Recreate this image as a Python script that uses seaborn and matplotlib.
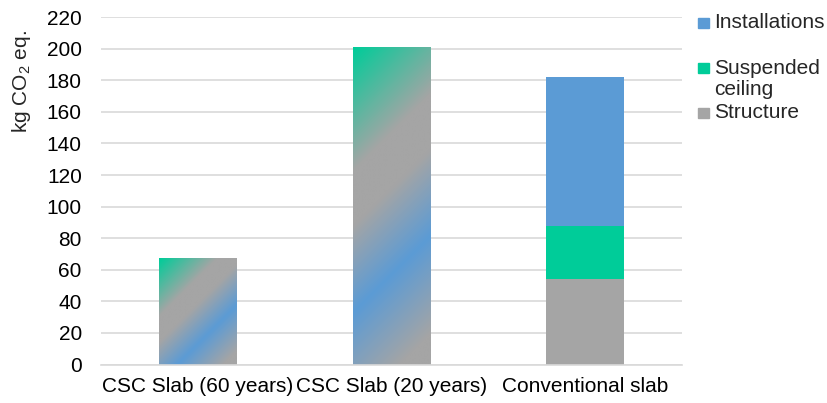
import numpy as np
import pandas as pd
import matplotlib
matplotlib.use('Agg')
import matplotlib.pyplot as plt
from matplotlib.colors import LinearSegmentedColormap
import seaborn as sns

# Chart data
categories = ['CSC Slab (60 years)', 'CSC Slab (20 years)', 'Conventional slab']
structure = [0, 0, 54]
suspended_ceiling = [0, 0, 34]
installations = [0, 0, 94]
csc_total = [67.5, 201, 0]
legend_labels = ['Installations', 'Suspended\nceiling', 'Structure']

blue = '#5B9BD5'
green = '#00CC99'
gray = '#A5A5A5'
FS = 15

sns.set_style('white')
plt.rcParams['font.family'] = ['Liberation Sans', 'DejaVu Sans']
plt.rcParams['mathtext.fontset'] = 'custom'
plt.rcParams['mathtext.rm'] = 'Liberation Sans'
plt.rcParams['mathtext.it'] = 'Liberation Sans'

df = pd.DataFrame({'category': categories,
                   'structure': structure,
                   'suspended': suspended_ceiling,
                   'installations': installations,
                   'csc': csc_total})
df['cum_susp'] = df['structure'] + df['suspended']
df['cum_inst'] = df['cum_susp'] + df['installations']

fig = plt.figure(figsize=(8.27, 4.03), dpi=100)
ax = fig.add_axes([0.1216, 0.0955, 0.7031, 0.862])

# Stacked bars (draw cumulative from top down)
for col, color in [('cum_inst', blue), ('cum_susp', green), ('structure', gray)]:
    sns.barplot(data=df, x='category', y=col, order=categories, color=color,
                width=0.4, saturation=1, linewidth=0, edgecolor='none', ax=ax, zorder=2)

# Gradient bars for CSC slabs
n_before = len(ax.patches)
sns.barplot(data=df, x='category', y='csc', order=categories, color='none',
            width=0.4, saturation=1, linewidth=0, ax=ax, zorder=2)
grad_patches = ax.patches[n_before:]

ax.set_ylim(0, 220)
ax.set_xlim(-0.5, 2.5)
fig.canvas.draw()

# Diagonal gradient fill (green -> gray -> blue -> gray)
cmap = LinearSegmentedColormap.from_list(
    'csc', [(0.0, green), (0.31, gray), (0.45, gray), (0.67, blue),
            (0.92, gray), (1.0, gray)])
for p in grad_patches:
    h = p.get_height()
    if h <= 0:
        continue
    x0, w = p.get_x(), p.get_width()
    bb = p.get_window_extent()
    W, H = max(int(bb.width), 2), max(int(bb.height), 2)
    xx, yy = np.meshgrid(np.arange(W), np.arange(H))
    t = (xx + yy) / float(W + H)
    p.set_facecolor('none')
    p.set_edgecolor('none')
    im = ax.imshow(t, cmap=cmap, vmin=0, vmax=1, aspect='auto', origin='upper',
                   extent=[x0, x0 + w, 0, h], zorder=2, interpolation='bilinear')
    im.set_clip_path(p)

ax.set_ylim(0, 220)
ax.set_xlim(-0.5, 2.5)
ax.set_yticks(range(0, 221, 20))
ax.grid(axis='y', color='#D9D9D9', linewidth=1.2, zorder=0)
ax.set_axisbelow(True)
for s in ['top', 'right', 'left']:
    ax.spines[s].set_visible(False)
ax.spines['bottom'].set_color('#D9D9D9')
ax.spines['bottom'].set_linewidth(1.2)
ax.tick_params(axis='y', length=0, pad=13.5, labelsize=FS, colors='black')
ax.tick_params(axis='x', length=0, pad=9, labelsize=FS, colors='black')
ax.set_xlabel('')
ax.set_ylabel('kg CO$_2$ eq.', fontsize=FS)
ax.yaxis.set_label_coords(-0.116, 0.814)

# Legend
handles_colors = [blue, green, gray]
legend_y = [23, 68, 113]
for lab, col, y in zip(legend_labels, handles_colors, legend_y):
    yf = 1 - y / 403
    fig.patches.append(plt.Rectangle((698 / 827, yf - 5 / 403), 11 / 827, 10 / 403,
                                     transform=fig.transFigure, color=col))
    fig.text(714 / 827, yf, lab.split('\n')[0], fontsize=FS, va='center', ha='left')
    if '\n' in lab:
        fig.text(714 / 827, yf - 21 / 403, lab.split('\n')[1], fontsize=FS,
                 va='center', ha='left')

fig.savefig('out.png', dpi=100)
